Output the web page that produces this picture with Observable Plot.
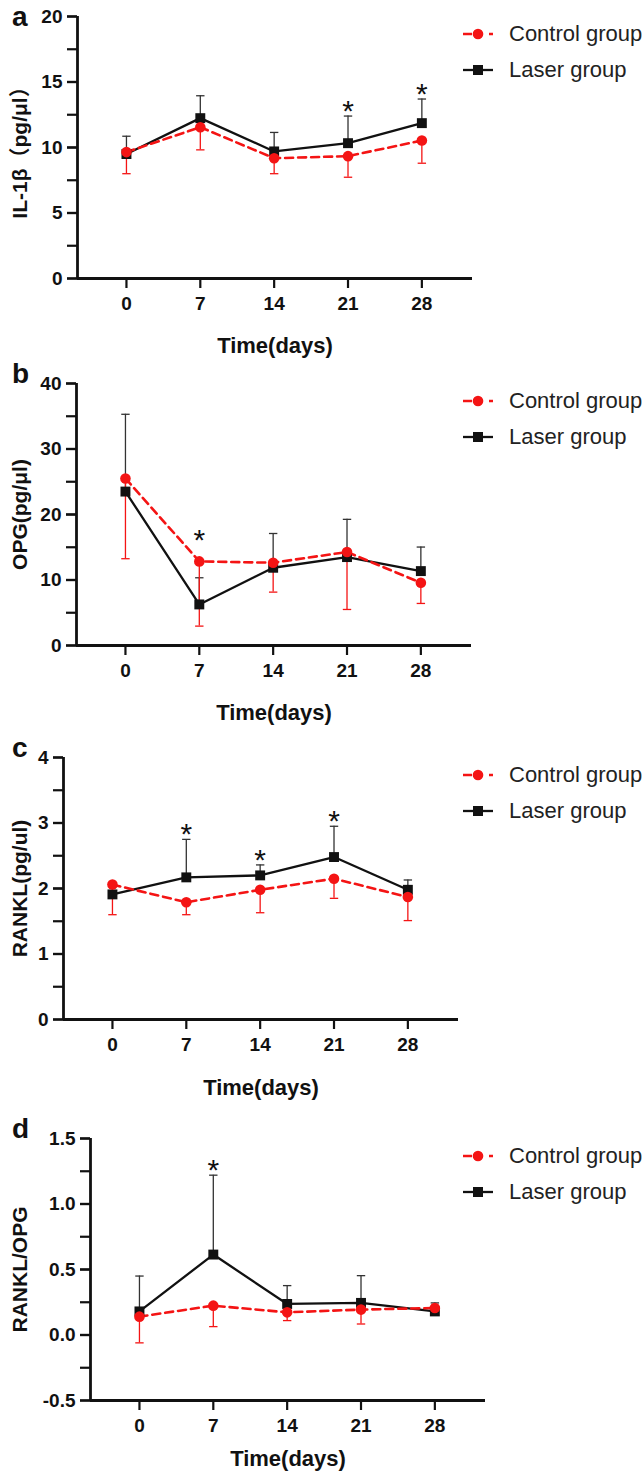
<!DOCTYPE html>
<html><head><meta charset="utf-8">
<script src="https://cdn.jsdelivr.net/npm/d3@7"></script>
<script src="https://cdn.jsdelivr.net/npm/@observablehq/plot@0.6"></script>
<style>
html,body{margin:0;padding:0;background:#fff;overflow:hidden;}
body{font-family:"Liberation Sans",Arial,"Noto Sans CJK SC",sans-serif;}
#root{position:relative;width:644px;height:1481px;overflow:hidden;}
.panel{position:absolute;left:0;}
.letter{position:absolute;font-weight:bold;font-size:28px;line-height:28px;color:#111;}
.lg{position:absolute;left:463px;height:24px;display:flex;align-items:center;font-size:22px;color:#222;white-space:nowrap;}
.lg svg{margin-right:15px;}
</style></head><body><div id="root"></div>
<script>
const FONT = '"Liberation Sans", Arial, "Noto Sans CJK SC", sans-serif';
const days = [0, 7, 14, 21, 28];
const seriesNames = ["Control group", "Laser group"];
const panelLetters = ["a", "b", "c", "d"];
const yLabels = ["IL-1β（pg/μl）", "OPG(pg/μl)", "RANKL(pg/ul)", "RANKL/OPG"];
const xLabel = "Time(days)";

// a: IL-1β
const il1bControl   = [9.65, 11.55, 9.18, 9.34, 10.53];
const il1bControlSD = [1.65, 1.73, 1.18, 1.61, 1.73];
const il1bLaser     = [9.50, 12.24, 9.70, 10.33, 11.86];
const il1bLaserSD   = [1.36, 1.71, 1.45, 2.07, 1.84];
const il1bSig       = [0, 0, 0, 1, 1];
const il1bTicks     = [0, 2.5, 5, 7.5, 10, 12.5, 15, 17.5, 20];
const il1bLabels    = [0, 5, 10, 15, 20];

// b: OPG
const opgControl   = [25.5, 12.84, 12.64, 14.27, 9.58];
const opgControlSD = [12.25, 9.88, 4.49, 8.77, 3.16];
const opgLaser     = [23.5, 6.27, 11.87, 13.5, 11.36];
const opgLaserSD   = [11.8, 4.07, 5.23, 5.76, 3.67];
const opgSig       = [0, 1, 0, 0, 0];
const opgTicks     = [0, 5, 10, 15, 20, 25, 30, 35, 40];
const opgLabels    = [0, 10, 20, 30, 40];

// c: RANKL
const ranklControl   = [2.06, 1.79, 1.98, 2.15, 1.87];
const ranklControlSD = [0.46, 0.19, 0.35, 0.30, 0.36];
const ranklLaser     = [1.91, 2.17, 2.20, 2.48, 1.98];
const ranklLaserSD   = [0.12, 0.58, 0.16, 0.47, 0.15];
const ranklSig       = [0, 1, 1, 1, 0];
const ranklTicks     = [0, 0.5, 1, 1.5, 2, 2.5, 3, 3.5, 4];
const ranklLabels    = [0, 1, 2, 3, 4];

// d: RANKL/OPG
const ratioControl   = [0.14, 0.224, 0.173, 0.194, 0.206];
const ratioControlSD = [0.20, 0.16, 0.063, 0.11, 0.046];
const ratioLaser     = [0.18, 0.614, 0.237, 0.245, 0.18];
const ratioLaserSD   = [0.27, 0.606, 0.14, 0.208, 0.065];
const ratioSig       = [0, 1, 0, 0, 0];
const ratioTicks     = [-0.5, -0.25, 0, 0.25, 0.5, 0.75, 1, 1.25, 1.5];
const ratioLabels    = [-0.5, 0, 0.5, 1, 1.5];

const RED = "#f41414";
const capSymbol = {draw(ctx) { ctx.moveTo(-4.2, 0); ctx.lineTo(4.2, 0); }};

const panels = [
  {letter: panelLetters[0], yLabel: yLabels[0], c: il1bControl, cs: il1bControlSD, l: il1bLaser, ls: il1bLaserSD, sig: il1bSig,
   ticks: il1bTicks, labels: il1bLabels, fmt: d => String(d), ml: 77, top: 0, xlo: 74, letterTop: 3},
  {letter: panelLetters[1], yLabel: yLabels[1], c: opgControl, cs: opgControlSD, l: opgLaser, ls: opgLaserSD, sig: opgSig,
   ticks: opgTicks, labels: opgLabels, fmt: d => String(d), ml: 76, top: 366.7, xlo: 74, letterTop: 360},
  {letter: panelLetters[2], yLabel: yLabels[2], c: ranklControl, cs: ranklControlSD, l: ranklLaser, ls: ranklLaserSD, sig: ranklSig,
   ticks: ranklTicks, labels: ranklLabels, fmt: d => String(d), ml: 63, top: 741.3, xlo: 75, letterTop: 734},
  {letter: panelLetters[3], yLabel: yLabels[3], c: ratioControl, cs: ratioControlSD, l: ratioLaser, ls: ratioLaserSD, sig: ratioSig,
   ticks: ratioTicks, labels: ratioLabels, fmt: d => d.toFixed(1), ml: 90, top: 1122.3, xlo: 65, letterTop: 1115}
];

const root = document.getElementById("root");
const MT = 16, PH = 262, MB = 82, PW = 395, MR = 10;

for (const p of panels) {
  const rows = days.map((day, i) => ({day, c: p.c[i], cs: p.cs[i], l: p.l[i], ls: p.ls[i], sig: p.sig[i]}));
  const ymin = p.ticks[0], ymax = p.ticks[p.ticks.length - 1];
  const starOverBar = rows.filter(d => d.sig && d.l + d.ls >= d.c);
  const starOverDot = rows.filter(d => d.sig && d.l + d.ls < d.c);
  const chart = Plot.plot({
    width: p.ml + PW + MR, height: MT + PH + MB,
    marginLeft: p.ml, marginRight: MR, marginTop: MT, marginBottom: MB,
    style: {fontFamily: FONT, background: "transparent", overflow: "visible", color: "#111"},
    x: {domain: [-4.64, 32.8]},
    y: {domain: [ymin, ymax]},
    marks: [
      Plot.axisY({ticks: p.ticks, tickSize: 10, strokeWidth: 2.2, tickFormat: () => "", label: null}),
      Plot.axisY({ticks: p.labels, tickSize: 10, tickPadding: 5, strokeWidth: 2.2, tickFormat: p.fmt,
                  fontSize: 19, fontWeight: "bold", label: null}),
      Plot.axisY({ticks: [], label: p.yLabel, labelAnchor: "center", labelArrow: "none",
                  labelOffset: p.ml - 12, fontSize: 21, fontWeight: "bold"}),
      Plot.axisX({ticks: days, tickSize: 10, tickPadding: 8, strokeWidth: 2.2, tickFormat: d => String(d),
                  fontSize: 19, fontWeight: "bold", label: null}),
      Plot.axisX({ticks: [], label: xLabel, labelAnchor: "center", labelArrow: "none",
                  labelOffset: p.xlo, fontSize: 22, fontWeight: "bold"}),
      Plot.ruleX([-4.64], {stroke: "#111", strokeWidth: 2.8}),
      Plot.ruleY([ymin], {stroke: "#111", strokeWidth: 2.8}),
      // laser error bars (upward)
      Plot.ruleX(rows, {x: "day", y1: "l", y2: d => d.l + d.ls, stroke: "#333", strokeWidth: 1.3}),
      Plot.dot(rows, {x: "day", y: d => d.l + d.ls, symbol: capSymbol, r: 4, fill: "none", stroke: "#333", strokeWidth: 1.3}),
      // control error bars (downward)
      Plot.ruleX(rows, {x: "day", y1: "c", y2: d => d.c - d.cs, stroke: RED, strokeWidth: 1.3}),
      Plot.dot(rows, {x: "day", y: d => d.c - d.cs, symbol: capSymbol, r: 4, fill: "none", stroke: RED, strokeWidth: 1.3}),
      Plot.line(rows, {x: "day", y: "l", stroke: "#111", strokeWidth: 2.3}),
      Plot.line(rows, {x: "day", y: "c", stroke: RED, strokeWidth: 2.6, strokeDasharray: "8,5"}),
      Plot.dot(rows, {x: "day", y: "l", symbol: "square", r: 5.6, fill: "#111", stroke: "none"}),
      Plot.dot(rows, {x: "day", y: "c", r: 5.3, fill: RED, stroke: "none"}),
      Plot.text(starOverBar, {x: "day", y: d => d.l + d.ls, text: () => "*",
                fontSize: 30, dy: -5, lineAnchor: "middle", fill: "#111"}),
      Plot.text(starOverDot, {x: "day", y: "c", text: () => "*",
                fontSize: 30, dy: -21, lineAnchor: "middle", fill: "#111"})
    ]
  });
  const div = document.createElement("div");
  div.className = "panel";
  div.style.top = p.top + "px";
  div.style.width = (p.ml + PW + MR) + "px";
  div.appendChild(chart);
  root.appendChild(div);

  const letter = document.createElement("div");
  letter.className = "letter";
  letter.style.left = "12px";
  letter.style.top = p.letterTop + "px";
  letter.textContent = p.letter;
  root.appendChild(letter);

  // legend
  const legendRows = [
    {name: seriesNames[0], y: p.top + 34,
     svg: `<svg width="31" height="24"><line x1="0" y1="12" x2="9" y2="12" stroke="${RED}" stroke-width="2.5"/><circle cx="15" cy="12" r="5.3" fill="${RED}"/><line x1="26" y1="12" x2="30" y2="12" stroke="${RED}" stroke-width="2.5"/></svg>`},
    {name: seriesNames[1], y: p.top + 70,
     svg: `<svg width="31" height="24"><line x1="0" y1="12" x2="30" y2="12" stroke="#111" stroke-width="2.3"/><rect x="10" y="7" width="10" height="10" fill="#111"/></svg>`}
  ];
  for (const r of legendRows) {
    const lg = document.createElement("div");
    lg.className = "lg";
    lg.style.top = (r.y - 12) + "px";
    lg.innerHTML = r.svg + `<span>${r.name}</span>`;
    root.appendChild(lg);
  }
}
</script></body></html>
